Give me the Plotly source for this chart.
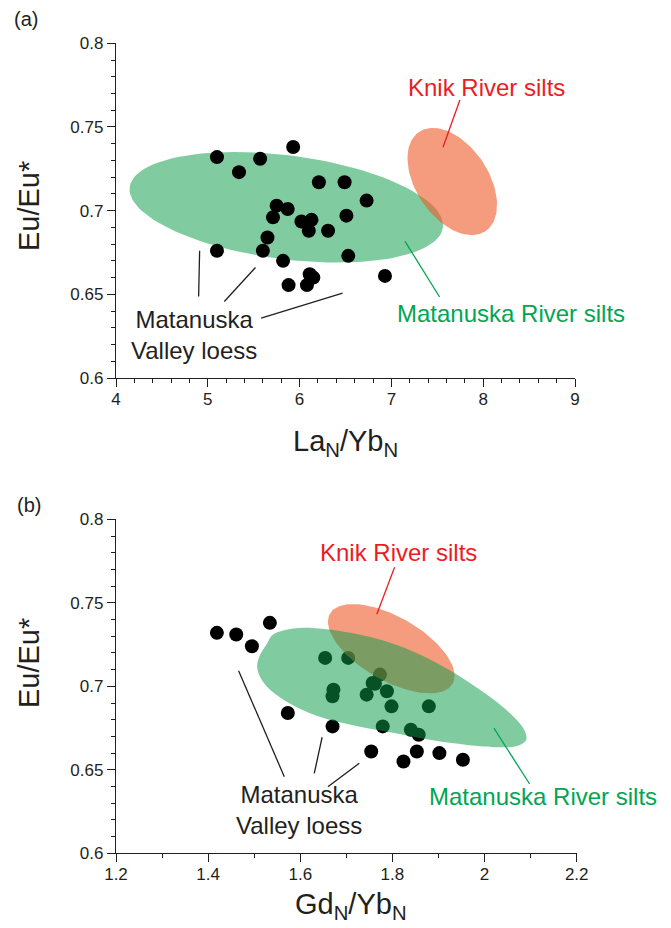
import numpy as np
import plotly.graph_objects as go

# ---------------- data ----------------
# Panel (a): La_N/Yb_N vs Eu/Eu*  (Matanuska Valley loess)
la_yb = [5.10, 5.93, 5.57, 5.34, 6.21, 6.49, 6.73, 5.75, 5.87, 5.71, 6.51, 6.02, 6.13,
         6.10, 6.31, 5.65, 5.10, 5.60, 6.53, 5.82, 6.11, 6.15, 6.93, 5.88, 6.08]
eu_a = [0.732, 0.738, 0.731, 0.723, 0.717, 0.717, 0.706, 0.703, 0.701, 0.696, 0.697, 0.6935, 0.6945,
        0.688, 0.688, 0.684, 0.676, 0.676, 0.673, 0.670, 0.662, 0.660, 0.661, 0.6555, 0.6555]

# Panel (b): Gd_N/Yb_N vs Eu/Eu*
gd_yb = [1.419, 1.461, 1.534, 1.495, 1.654, 1.704, 1.773, 1.757, 1.762, 1.672, 1.670, 1.744, 1.788,
         1.798, 1.879, 1.573, 1.670, 1.779, 1.840, 1.857, 1.754, 1.853, 1.902, 1.824, 1.953]
eu_b = [0.732, 0.731, 0.738, 0.724, 0.717, 0.717, 0.707, 0.702, 0.7015, 0.698, 0.694, 0.695, 0.697,
        0.688, 0.688, 0.684, 0.676, 0.676, 0.674, 0.671, 0.661, 0.661, 0.660, 0.655, 0.656]

# Field outlines: ellipses given by centre and two conjugate semi-axis vectors (data units)
green_a = dict(c=(5.855, 0.702), u=(1.7058, -0.01211), v=(-0.0726, -0.03073))
orange_a = dict(c=(7.663, 0.7174), u=(0.3607, -0.02970), v=(-0.3287, -0.01199))
orange_b = dict(c=(1.7975, 0.7225), u=(0.13316, -0.02099), v=(-0.03432, -0.01657))
# Matanuska River silts field in (b): outline
green_b_x = [1.5397, 1.5668, 1.6057, 1.6521, 1.7142, 1.7761, 1.8460, 1.9235, 2.0010, 2.0552, 2.0863,
             2.0902, 2.0706, 2.0320, 1.9621, 1.8846, 1.8071, 1.7296, 1.6521, 1.5901, 1.5436, 1.5165,
             1.5063, 1.5126, 1.5280]
green_b_y = [0.7307, 0.7337, 0.7351, 0.7343, 0.7317, 0.7277, 0.7207, 0.7098, 0.6958, 0.6838, 0.6738,
             0.6678, 0.6642, 0.6635, 0.6649, 0.6678, 0.6719, 0.6758, 0.6808, 0.6878, 0.6958, 0.7038,
             0.7117, 0.7187, 0.7257]

GREEN_FILL = "rgba(12,158,73,0.52)"
ORANGE_FILL = "rgba(238,90,40,0.6)"
RED_TXT = "#ED1C24"
GREEN_TXT = "#00A651"
BLACK = "#231F20"
FONT = "Liberation Sans, Arial, sans-serif"

# page body has an 8px margin: the figure starts 8px in and runs to the window edge
OFF = 8
W, H = 671 - OFF, 928 - OFF


def xp(p):
    return (p - OFF) / W


def yp(p):
    return 1 - (p - OFF) / H


def ellipse(e, n=120):
    t = np.linspace(0, 2 * np.pi, n)
    x = e["c"][0] + e["u"][0] * np.cos(t) + e["v"][0] * np.sin(t)
    y = e["c"][1] + e["u"][1] * np.cos(t) + e["v"][1] * np.sin(t)
    return x, y


fig = go.Figure()


def field(x, y, color, xa, ya, smooth=False):
    fig.add_trace(go.Scatter(x=list(x), y=list(y), mode="lines", fill="toself", fillcolor=color,
                             line=dict(width=0, color=color, shape="spline" if smooth else "linear",
                                       smoothing=1.0),
                             xaxis=xa, yaxis=ya, hoverinfo="skip", showlegend=False))


def points(x, y, xa, ya):
    fig.add_trace(go.Scatter(x=x, y=y, mode="markers",
                             marker=dict(size=14, color="black", line=dict(width=0)),
                             xaxis=xa, yaxis=ya, showlegend=False, cliponaxis=False))


# Panel (a): fields below points, orange over green
gx, gy = ellipse(green_a)
field(gx, gy, GREEN_FILL, "x", "y")
ox, oy = ellipse(orange_a)
field(ox, oy, ORANGE_FILL, "x", "y")
points(la_yb, eu_a, "x", "y")

# Panel (b): points below fields, green over orange
points(gd_yb, eu_b, "x2", "y2")
ox, oy = ellipse(orange_b)
field(ox, oy, ORANGE_FILL, "x2", "y2")
field(green_b_x + green_b_x[:1], green_b_y + green_b_y[:1], GREEN_FILL, "x2", "y2", smooth=True)

axis_common = dict(showline=True, linecolor=BLACK, linewidth=1.3, ticks="outside", ticklen=8,
                   tickwidth=1.2, tickcolor=BLACK, showgrid=False, zeroline=False, mirror=False,
                   automargin=False,
                   tickfont=dict(family=FONT, size=17, color=BLACK))
minor_common = dict(ticks="outside", ticklen=4, tickcolor=BLACK, tickwidth=1, showgrid=False)

fig.update_layout(
    template="none",
    width=W, height=H, margin=dict(l=0, r=0, t=0, b=0, pad=0, autoexpand=False),
    paper_bgcolor="white", plot_bgcolor="white", showlegend=False,
    xaxis=dict(domain=[xp(116), xp(575)], range=[4, 9], dtick=1, anchor="y", ticklabelstandoff=-3,
               minor=dict(dtick=0.2, **minor_common), **axis_common),
    yaxis=dict(domain=[yp(378), yp(43.3)], range=[0.6, 0.8], dtick=0.05, anchor="x",
               minor=dict(dtick=0.01, **minor_common), **axis_common),
    xaxis2=dict(domain=[xp(116), xp(576.7)], range=[1.2, 2.2], dtick=0.2, anchor="y2", ticklabelstandoff=-3,
                minor=dict(dtick=0.1, **minor_common), **axis_common),
    yaxis2=dict(domain=[yp(853.3), yp(519.3)], range=[0.6, 0.8], dtick=0.05, anchor="x2",
                minor=dict(dtick=0.01, **minor_common), **axis_common),
)

ann = []


def txt(text, x, y, xref, yref, color=BLACK, size=24, angle=0, align="center"):
    ann.append(dict(text=text, x=x, y=y, xref=xref, yref=yref, showarrow=False, xanchor="center",
                    yanchor="middle", textangle=angle, align=align,
                    font=dict(family=FONT, size=size, color=color)))


# panel labels and axis titles (paper coords)
txt("(a)", xp(26), yp(19), "paper", "paper", size=20)
txt("(b)", xp(29), yp(505), "paper", "paper", size=20)
txt("Eu/Eu*", xp(29), yp(206), "paper", "paper", size=29, angle=-90)
txt("Eu/Eu*", xp(29), yp(663), "paper", "paper", size=29, angle=-90)
txt("La<sub>N</sub>/Yb<sub>N</sub>", xp(345), yp(443), "paper", "paper", size=29)
txt("Gd<sub>N</sub>/Yb<sub>N</sub>", xp(351), yp(906), "paper", "paper", size=29)

# field labels (data coords)
txt("Knik River silts", 8.032, 0.7737, "x", "y", color=RED_TXT)
txt("Matanuska River silts", 8.308, 0.6384, "x", "y", color=GREEN_TXT)
txt("Matanuska<br>Valley loess", 4.846, 0.6257, "x", "y")
txt("Knik River silts", 1.8141, 0.7800, "x2", "y2", color=RED_TXT)
txt("Matanuska River silts", 2.1269, 0.6339, "x2", "y2", color=GREEN_TXT)
txt("Matanuska<br>Valley loess", 1.5970, 0.6259, "x2", "y2")

fig.update_layout(annotations=ann)

# leader lines (data coords)
leaders = [
    ("x", "y", 7.746, 0.7661, 7.562, 0.7379, RED_TXT),
    ("x", "y", 7.149, 0.6816, 7.525, 0.6484, GREEN_TXT),
    ("x", "y", 4.911, 0.6760, 4.900, 0.6487, BLACK),
    ("x", "y", 5.519, 0.6660, 5.180, 0.6457, BLACK),
    ("x", "y", 6.468, 0.6507, 5.581, 0.6358, BLACK),
    ("x2", "y2", 1.8047, 0.7713, 1.7661, 0.7431, RED_TXT),
    ("x2", "y2", 2.0203, 0.6749, 2.0978, 0.6415, GREEN_TXT),
    ("x2", "y2", 1.4661, 0.7093, 1.5653, 0.6459, BLACK),
    ("x2", "y2", 1.6474, 0.6695, 1.6304, 0.6479, BLACK),
    ("x2", "y2", 1.7281, 0.6539, 1.6600, 0.6399, BLACK),
]
for xr, yr, x0, y0, x1, y1, c in leaders:
    fig.add_shape(type="line", xref=xr, yref=yr, x0=x0, y0=y0, x1=x1, y1=y1,
                  line=dict(color=c, width=1.3))

fig.write_html("out.html")
